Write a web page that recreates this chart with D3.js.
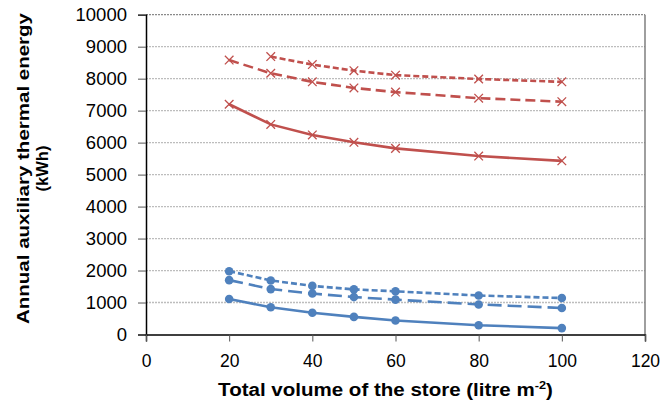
<!DOCTYPE html>
<html>
<head>
<meta charset="utf-8">
<script src="https://cdn.jsdelivr.net/npm/d3@7"></script>
<style>
  html, body { margin: 0; padding: 0; background: #fff; }
  svg { display: block; font-family: "Liberation Sans", Arial, sans-serif; }
</style>
</head>
<body>
<svg id="chart" width="664" height="409"></svg>
<script>
// Store volume (litre per m² of collector)
const volumes = [20, 30, 40, 50, 60, 80, 100];

// Annual auxiliary thermal energy (kWh), three cases per colour
const redSolid = [7200, 6570, 6240, 6010, 5820, 5580, 5430];
const redLongDash = [8580, 8170, 7900, 7710, 7580, 7390, 7280];
const redShortDash = [null, 8690, 8440, 8250, 8110, 7990, 7900];
const blueSolid = [1110, 850, 680, 550, 440, 290, 200];
const blueLongDash = [1700, 1420, 1280, 1170, 1090, 940, 830];
const blueShortDash = [1980, 1690, 1520, 1410, 1350, 1220, 1140];

const xTicks = [0, 20, 40, 60, 80, 100, 120];
const yTicks = [0, 1000, 2000, 3000, 4000, 5000, 6000, 7000, 8000, 9000, 10000];

const RED = "#C0504D";
const BLUE = "#4F81BD";

const series = [
  { values: redSolid, color: RED, dash: null, marker: "x" },
  { values: redLongDash, color: RED, dash: "10,5", marker: "x" },
  { values: redShortDash, color: RED, dash: "6,3", marker: "x" },
  { values: blueSolid, color: BLUE, dash: null, marker: "o" },
  { values: blueLongDash, color: BLUE, dash: "14,6", marker: "o" },
  { values: blueShortDash, color: BLUE, dash: "6,3", marker: "o" }
];

const svg = d3.select("#chart");
const plotLeft = 146, plotRight = 645, plotTop = 14.7, plotBottom = 334.5;

const x = d3.scaleLinear().domain([0, 120]).range([plotLeft, plotRight]);
const y = d3.scaleLinear().domain([0, 10000]).range([plotBottom, plotTop]);

// Horizontal gridlines (dotted grey)
svg.append("g")
  .selectAll("line")
  .data(yTicks.filter(t => t > 0))
  .join("line")
  .attr("x1", plotLeft).attr("x2", plotRight)
  .attr("y1", d => y(d)).attr("y2", d => y(d))
  .attr("stroke", d => d === 10000 ? "#8a8a8a" : "#bdbdbd")
  .attr("stroke-width", 1.3)
  .attr("stroke-dasharray", "2,1");

// Right border of the plot area
svg.append("line")
  .attr("x1", plotRight).attr("x2", plotRight)
  .attr("y1", plotTop).attr("y2", plotBottom)
  .attr("stroke", "#6b6b6b").attr("stroke-width", 1.3);

// Y axis
const yAxis = svg.append("g")
  .attr("transform", `translate(${plotLeft},0)`)
  .call(d3.axisLeft(y).tickValues(yTicks).tickSize(8).tickPadding(11).tickFormat(d3.format("d")));
yAxis.select(".domain").attr("stroke", "#000").attr("stroke-width", 1.5);
yAxis.selectAll(".tick line").attr("stroke", "#555").attr("stroke-width", 1);
yAxis.selectAll(".tick text")
  .attr("font-size", 18.5).attr("fill", "#000")
  .attr("font-family", "'Liberation Sans', Arial, sans-serif");

// X axis
const xAxis = svg.append("g")
  .attr("transform", `translate(0,${plotBottom})`)
  .call(d3.axisBottom(x).tickValues(xTicks).tickSize(7).tickPadding(13).tickFormat(d3.format("d")));
xAxis.select(".domain").attr("stroke", "#000").attr("stroke-width", 1.5);
xAxis.selectAll(".tick line").attr("stroke", "#555").attr("stroke-width", 1);
xAxis.selectAll(".tick text")
  .attr("font-size", 17.5).attr("fill", "#000")
  .attr("font-family", "'Liberation Sans', Arial, sans-serif");

// Lines and markers
const line = d3.line()
  .defined(d => d.v !== null)
  .x(d => x(d.x))
  .y(d => y(d.v));

series.forEach(s => {
  const pts = volumes.map((vx, i) => ({ x: vx, v: s.values[i] }));
  svg.append("path")
    .datum(pts)
    .attr("d", line)
    .attr("fill", "none")
    .attr("stroke", s.color)
    .attr("stroke-width", 2.6)
    .attr("stroke-dasharray", s.dash);

  const valid = pts.filter(d => d.v !== null);
  if (s.marker === "o") {
    svg.append("g").selectAll("circle")
      .data(valid)
      .join("circle")
      .attr("cx", d => x(d.x)).attr("cy", d => y(d.v))
      .attr("r", 4.3)
      .attr("fill", s.color);
  } else {
    const r = 4.3;
    svg.append("g").selectAll("path")
      .data(valid)
      .join("path")
      .attr("d", d => {
        const cx = x(d.x), cy = y(d.v);
        return `M${cx - r},${cy - r}L${cx + r},${cy + r}M${cx - r},${cy + r}L${cx + r},${cy - r}`;
      })
      .attr("stroke", s.color)
      .attr("stroke-width", 1.3)
      .attr("fill", "none");
  }
});

// Y axis title (two lines, rotated)
const yTitle = svg.append("text")
  .attr("transform", "translate(29,168.5) rotate(-90)")
  .attr("text-anchor", "middle")
  .attr("font-weight", "bold")
  .attr("font-size", 16.5)
  .attr("fill", "#000");
yTitle.append("tspan").attr("x", 0).attr("dy", 0)
  .attr("textLength", 311).attr("lengthAdjust", "spacingAndGlyphs")
  .text("Annual auxiliary thermal energy");
yTitle.append("tspan").attr("x", 0).attr("dy", 18.5).text("(kWh)");

// X axis title, widened to span its slot
const xTitleG = svg.append("g");
const xTitle = xTitleG.append("text")
  .attr("x", 0).attr("y", 0)
  .attr("text-anchor", "middle")
  .attr("font-weight", "bold")
  .attr("font-size", 18.5)
  .attr("fill", "#000");
xTitle.append("tspan").text("Total volume of the store (litre m");
xTitle.append("tspan").attr("font-size", 11.5).attr("dy", -7.5).text("-2");
xTitle.append("tspan").attr("dy", 7.5).text(")");
const naturalW = xTitle.node().getBBox().width;
const sx = 335 / naturalW;
xTitleG.attr("transform", `translate(385.5,396) scale(${sx},1)`);
</script>
</body>
</html>
